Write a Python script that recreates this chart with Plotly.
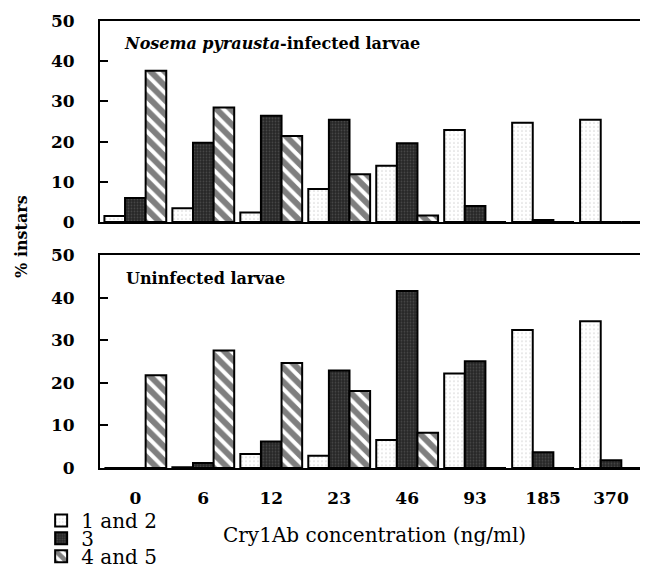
import plotly.graph_objects as go

categories = ["0", "6", "12", "23", "46", "93", "185", "370"]
series_names = ["1 and 2", "3", "4 and 5"]

infected_12 = [1.5, 3.4, 2.4, 8.2, 14.0, 22.9, 24.7, 25.4]
infected_3 = [6.0, 19.7, 26.4, 25.4, 19.6, 4.0, 0.5, 0.0]
infected_45 = [37.6, 28.5, 21.4, 11.9, 1.6, 0.0, 0.0, 0.0]

uninfected_12 = [0.0, 0.2, 3.3, 2.9, 6.6, 22.2, 32.4, 34.5]
uninfected_3 = [0.0, 1.2, 6.2, 22.9, 41.6, 25.1, 3.7, 1.8]
uninfected_45 = [21.8, 27.6, 24.7, 18.1, 8.3, 0.0, 0.0, 0.0]

y_ticks = [0, 10, 20, 30, 40, 50]

SERIF = "DejaVu Serif"

styles = [
    dict(color="white", line=dict(color="black", width=2),
         pattern=dict(shape=".", fgcolor="#b0b0b0", bgcolor="white", size=4, solidity=0.15)),
    dict(color="#2e2e2e", line=dict(color="black", width=2),
         pattern=dict(shape=".", fgcolor="#6a6a6a", bgcolor="#262626", size=3, solidity=0.3)),
    dict(color="white", line=dict(color="black", width=2),
         pattern=dict(shape="\\", fgcolor="black", bgcolor="white", size=10, solidity=0.6)),
]

fig = go.Figure()
legend_ids = ["legend", "legend2", "legend3"]
top_series = [infected_12, infected_3, infected_45]
bot_series = [uninfected_12, uninfected_3, uninfected_45]

for i, (name, vals) in enumerate(zip(series_names, top_series)):
    fig.add_trace(go.Bar(x=categories, y=vals, name=name, marker=styles[i],
                         xaxis="x", yaxis="y", showlegend=True, legend=legend_ids[i]))
for i, (name, vals) in enumerate(zip(series_names, bot_series)):
    fig.add_trace(go.Bar(x=categories, y=vals, name=name, marker=styles[i],
                         xaxis="x2", yaxis="y2", showlegend=False))

tickfont = dict(family=SERIF, size=17, color="black", weight="bold")
axis_common = dict(showline=True, linecolor="black", linewidth=2, mirror=True,
                   showgrid=False, zeroline=False)

# page body has an 8px default margin, so the figure is 8px smaller and margins compensate
fig.update_layout(
    width=640, height=564,
    margin=dict(l=92, r=3, t=12, b=104, autoexpand=False),
    paper_bgcolor="white", plot_bgcolor="white",
    barmode="group", bargap=0.09, bargroupgap=0,
    xaxis=dict(**axis_common, domain=[0, 1], anchor="y", range=[-0.52, 7.5],
               showticklabels=False, ticks=""),
    yaxis=dict(**axis_common, domain=[0.549, 0.998], anchor="x", range=[0, 50],
               tickvals=y_ticks, ticks="inside", ticklen=8, tickwidth=2, tickcolor="black",
               tickfont=tickfont, ticklabelstandoff=20),
    xaxis2=dict(**axis_common, domain=[0, 1], anchor="y2", range=[-0.52, 7.5],
                ticks="", tickfont=tickfont, ticklabelstandoff=14),
    yaxis2=dict(**axis_common, domain=[0, 0.475], anchor="x2", range=[0, 50],
                tickvals=y_ticks, ticks="inside", ticklen=8, tickwidth=2, tickcolor="black",
                tickfont=tickfont, ticklabelstandoff=20),
)

legend_y = [-0.117, -0.157, -0.197]
for lid, ly in zip(legend_ids, legend_y):
    fig.update_layout({lid: dict(x=-0.108, y=ly, xanchor="left", yanchor="middle",
                                 bgcolor="rgba(0,0,0,0)", borderwidth=0,
                                 font=dict(family=SERIF, size=20, color="black"))})

fig.add_annotation(text="<i>Nosema pyrausta</i>-infected larvae", xref="paper", yref="y domain",
                   x=0.04, y=0.89, xanchor="left", yanchor="middle", showarrow=False,
                   font=dict(family=SERIF, size=16, color="black", weight="bold"))
fig.add_annotation(text="Uninfected larvae", xref="paper", yref="y2 domain",
                   x=0.044, y=0.89, xanchor="left", yanchor="middle", showarrow=False,
                   font=dict(family=SERIF, size=16, color="black", weight="bold"))
fig.add_annotation(text="% instars", xref="paper", yref="paper", x=-0.143, y=0.516,
                   xanchor="center", yanchor="middle", textangle=-90, showarrow=False,
                   font=dict(family=SERIF, size=16, color="black", weight="bold"))
fig.add_annotation(text="Cry1Ab concentration (ng/ml)", xref="paper", yref="paper",
                   x=0.504, y=-0.1496, xanchor="center", yanchor="middle", showarrow=False,
                   font=dict(family=SERIF, size=20, color="black"))

fig.write_html("out.html")
